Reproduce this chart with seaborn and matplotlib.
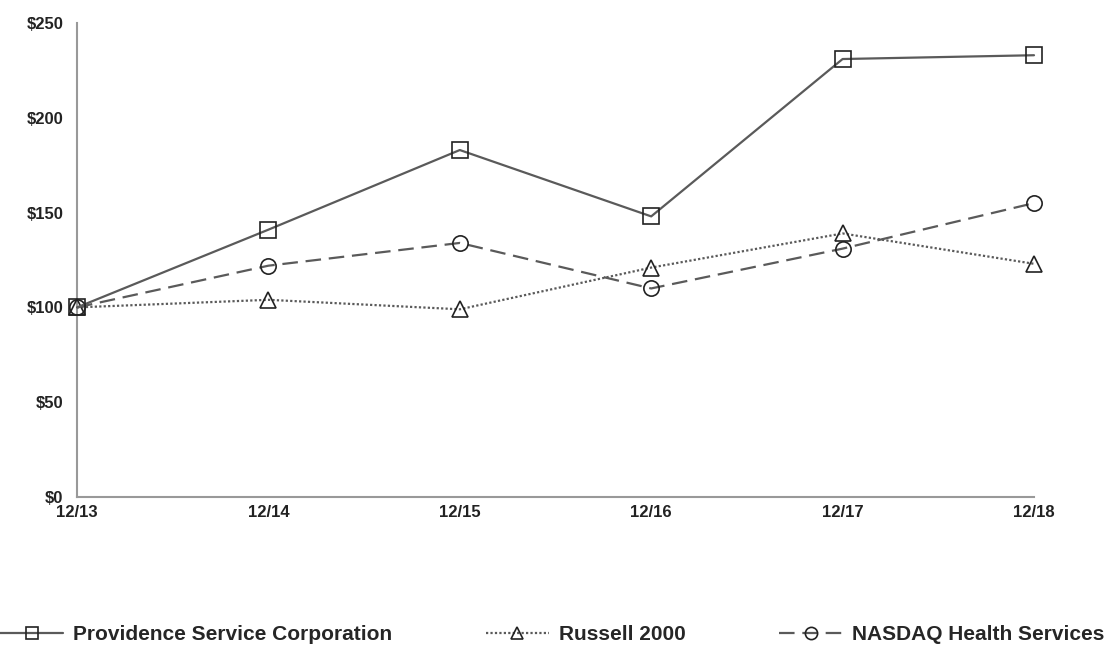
import matplotlib
matplotlib.use("Agg")
import matplotlib.pyplot as plt
import seaborn as sns
import pandas as pd
import numpy as np

years = ["12/13", "12/14", "12/15", "12/16", "12/17", "12/18"]
providence = [100, 141, 183, 148, 231, 233]
russell = [100, 104, 99, 121, 139, 123]
nasdaq = [100, 122, 134, 110, 131, 155]
y_ticks = [0, 50, 100, 150, 200, 250]
y_labels = ["$0", "$50", "$100", "$150", "$200", "$250"]

sns.set_theme(style="white")
plt.rcParams['font.family'] = ['Liberation Sans', 'DejaVu Sans']

fig = plt.figure(figsize=(11.05, 6.47), dpi=100)
ax = fig.add_axes([77/1105, 1-497/647, (1034-77)/1105, (497-23)/647])

x = np.arange(len(years))
series = [
    ("Providence Service Corporation", providence, "-", "s", 5),
    ("Russell 2000", russell, (0, (1.0, 1.0)), "^", 3),
    ("NASDAQ Health Services", nasdaq, (0, (7, 3.5)), "o", 4),
]
for name, vals, ls, mk, z in series:
    df = pd.DataFrame({"x": x, "y": vals})
    sns.lineplot(data=df, x="x", y="y", ax=ax, color="#5a5a5a", linestyle=ls,
                 linewidth=1.6, marker=mk, markersize=11, markerfacecolor="none",
                 markeredgecolor="#222222", markeredgewidth=1.2, label=name,
                 legend=False, clip_on=False, zorder=z)

ax.set_xlim(0, 5)
ax.set_ylim(0, 250)
ax.set_xticks(x)
ax.set_xticklabels(years, fontsize=12, fontweight="bold", color="#222222")
ax.set_yticks(y_ticks)
ax.set_yticklabels(y_labels, fontsize=12, fontweight="bold", color="#222222")
ax.set_xlabel("")
ax.set_ylabel("")
for s in ["top", "right"]:
    ax.spines[s].set_visible(False)
for s in ["left", "bottom"]:
    ax.spines[s].set_color("#999999")
    ax.spines[s].set_linewidth(1.5)
ax.tick_params(axis="y", direction="out", length=4, width=1, color="#999999", pad=6)
ax.tick_params(axis="x", direction="in", length=4, width=1, color="#999999", pad=6)
ax.grid(False)

handles, labels = ax.get_legend_handles_labels()
leg = fig.legend(handles, labels, loc="center", bbox_to_anchor=(0.5, 1-635/647), ncol=3,
                 frameon=False, prop={"weight": "bold", "size": 15}, columnspacing=4.5,
                 handlelength=3, handletextpad=0.5, borderaxespad=0, markerscale=0.8)

fig.savefig("out.png", dpi=100, facecolor="white")
